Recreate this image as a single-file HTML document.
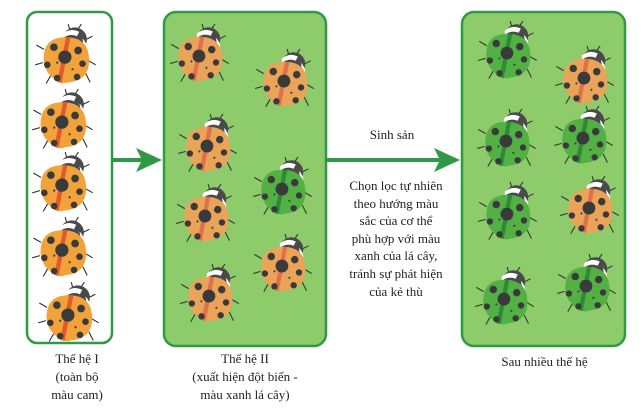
<!DOCTYPE html>
<html><head><meta charset="utf-8"><style>
html,body{margin:0;padding:0;background:#fff;}
body{width:642px;height:418px;position:relative;overflow:hidden;font-family:"Liberation Serif",serif;color:#222;}
.t{position:absolute;text-align:center;font-size:13px;line-height:18px;}
svg{position:absolute;left:0;top:0;}
</style></head><body>
<svg width="642" height="418" viewBox="0 0 642 418">
<defs>
<symbol id="bug" viewBox="-30 -30 60 60">
 <g stroke="#333" stroke-width="1" fill="none">
  <path d="M-20 -6 L-27 -10 M-21 6 L-28 8 M-14 18 L-18 25 M20 4 L27 8 M18 16 L22 24 M16 -14 L24 -18 M4 -22 L2 -29 M10 -23 L14 -29"/>
 </g>
 <circle cx="8" cy="-15" r="11" fill="#4a4a4a"/>
 <path d="M-3 -20 Q4 -26 12 -22 L10 -18 Q3 -21 -3 -16Z" fill="#fff"/>
 <path d="M15 -16 Q19 -12 19 -7 L16 -9Z" fill="#fff"/>
 <path d="M-20 -2 Q-18 -18 2 -17 Q20 -16 21 2 Q22 22 2 24 Q-6 27 -14 18 Q-22 10 -20 -2Z" fill="var(--c)"/>
 <path d="M2 -17 Q-2 4 -6 24" stroke="var(--d)" stroke-width="4" fill="none"/>
 <g fill="#3a3a3a">
  <circle cx="-1" cy="1" r="6"/><circle cx="-11" cy="-8" r="3.5"/><circle cx="11" cy="-5" r="3.5"/>
  <circle cx="15" cy="7" r="3"/><circle cx="-17" cy="8" r="3"/><circle cx="-8" cy="20" r="3"/><circle cx="10" cy="19" r="3"/>
  <circle cx="-8" cy="6" r="1"/><circle cx="6" cy="12" r="1"/>
 </g>
</symbol>
</defs>
<rect x="27" y="12" width="85" height="331" rx="10" fill="#fff" stroke="#2f9a45" stroke-width="2.5"/>
<rect x="164" y="12" width="162" height="334" rx="12" fill="#8dcb6b" stroke="#2f9a45" stroke-width="2.5"/>
<rect x="462" y="12" width="163" height="334" rx="12" fill="#8dcb6b" stroke="#2f9a45" stroke-width="2.5"/>
<line x1="113" y1="160" x2="148" y2="160" stroke="#2f9a45" stroke-width="4"/>
<polygon points="136,148 162,160 136,172 142,160" fill="#2f9a45"/>
<line x1="327" y1="160" x2="448" y2="160" stroke="#2f9a45" stroke-width="4"/>
<polygon points="434,148 460,160 434,172 440,160" fill="#2f9a45"/>
<g style="--c:#f2a23a;--d:#e05a2a">
<use href="#bug" x="33" y="23" width="66" height="66"/>
<use href="#bug" x="30" y="88" width="66" height="66"/>
<use href="#bug" x="30" y="151" width="66" height="66"/>
<use href="#bug" x="30" y="216" width="66" height="66"/>
<use href="#bug" x="36" y="281" width="66" height="66"/>
</g>
<g style="--c:#e9a45a;--d:#e0704a">
<use href="#bug" x="168" y="23" width="64" height="64"/>
<use href="#bug" x="253" y="48" width="64" height="64"/>
<use href="#bug" x="176" y="113" width="64" height="64"/>
<use href="#bug" x="174" y="183" width="64" height="64"/>
<use href="#bug" x="251" y="233" width="64" height="64"/>
<use href="#bug" x="178" y="263" width="64" height="64"/>
<use href="#bug" x="553" y="45" width="64" height="64"/>
<use href="#bug" x="558" y="175" width="64" height="64"/>
</g>
<g style="--c:#52b045;--d:#2e8a34">
<use href="#bug" x="251" y="156" width="64" height="64"/>
<use href="#bug" x="476" y="20" width="64" height="64"/>
<use href="#bug" x="475" y="108" width="64" height="64"/>
<use href="#bug" x="552" y="105" width="64" height="64"/>
<use href="#bug" x="476" y="181" width="64" height="64"/>
<use href="#bug" x="473" y="266" width="64" height="64"/>
<use href="#bug" x="555" y="253" width="64" height="64"/>
</g>
</svg>
<div class="t" style="left:17px;width:120px;top:350px;">Thế hệ I<br>(toàn bộ<br>màu cam)</div>
<div class="t" style="left:165px;width:160px;top:350px;">Thế hệ II<br>(xuất hiện đột biến -<br>màu xanh lá cây)</div>
<div class="t" style="left:332px;width:120px;top:126px;">Sinh sản</div>
<div class="t" style="left:332px;width:128px;top:177px;line-height:17.6px;">Chọn lọc tự nhiên<br>theo hướng màu<br>sắc của cơ thể<br>phù hợp với màu<br>xanh của lá cây,<br>tránh sự phát hiện<br>của kẻ thù</div>
<div class="t" style="left:463px;width:163px;top:353px;">Sau nhiều thế hệ</div>
</body></html>
